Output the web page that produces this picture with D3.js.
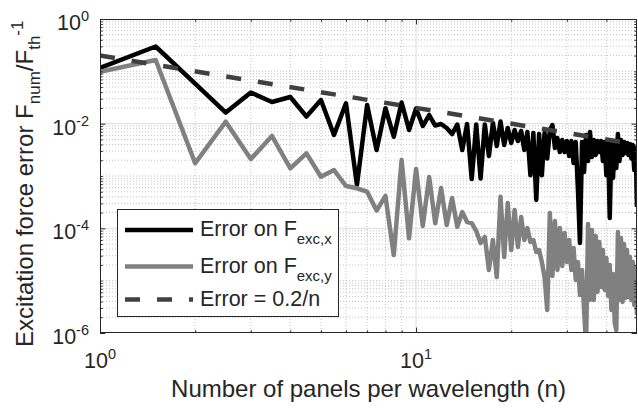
<!DOCTYPE html>
<html>
<head>
<meta charset="utf-8">
<script src="https://cdn.jsdelivr.net/npm/d3@7"></script>
<style>
  html, body { margin: 0; padding: 0; background: #fff; }
  svg { display: block; font-family: "Liberation Sans", Arial, Helvetica, sans-serif; }
</style>
</head>
<body>
<svg id="chart" width="638" height="410"></svg>
<script>
// Number of panels per wavelength (n), sampled every 0.5
const panelsPerWavelength = [
  1, 1.5, 2, 2.5, 3, 3.5, 4, 4.5, 5, 5.5,
  6, 6.5, 7, 7.5, 8, 8.5, 9, 9.5, 10, 10.5,
  11, 11.5, 12, 12.5, 13, 13.5, 14, 14.5, 15, 15.5,
  16, 16.5, 17, 17.5, 18, 18.5, 19, 19.5, 20, 20.5,
  21, 21.5, 22, 22.5, 23, 23.5, 24, 24.5, 25, 25.5,
  26, 26.5, 27, 27.5, 28, 28.5, 29, 29.5, 30, 30.5,
  31, 31.5, 32, 32.5, 33, 33.5, 34, 34.5, 35, 35.5,
  36, 36.5, 37, 37.5, 38, 38.5, 39, 39.5, 40, 40.5,
  41, 41.5, 42, 42.5, 43, 43.5, 44, 44.5, 45, 45.5,
  46, 46.5, 47, 47.5, 48, 48.5, 49, 49.5, 50
];

// Relative error on the x component of the excitation force
const errorExcX = [
  0.116, 0.298, 0.0585, 0.0163, 0.0394, 0.0259, 0.0323, 0.0137, 0.0283, 0.00607,
  0.0245, 0.000673, 0.0227, 0.00314, 0.0197, 0.00563, 0.0254, 0.00756, 0.0195, 0.00902,
  0.0146, 0.00922, 0.00985, 0.00826, 0.00634, 0.00964, 0.00314, 0.00985, 0.000876, 0.00964,
  0.000895, 0.00964, 0.00241, 0.0103, 0.00374, 0.0110, 0.00391, 0.00826, 0.00427, 0.00756,
  0.00466, 0.00724, 0.00314, 0.00693, 0.00103, 0.00663, 0.000348, 0.00634, 0.00103, 0.00663,
  0.00215, 0.00756, 0.00943, 0.00343, 0.00532, 0.00287, 0.00487, 0.00287, 0.00466, 0.00241,
  0.00466, 0.00177, 0.00446, 0.00059, 5.24e-5, 0.00446, 0.00119, 0.00607, 0.00193, 0.00693,
  0.00231, 0.00487, 0.00252, 0.00466, 0.00287, 0.00466, 0.00193, 0.00446, 0.00103, 0.00427,
  0.000158, 0.00427, 0.000915, 0.00466, 0.00142, 0.00634, 0.00193, 0.00487, 0.00252, 0.00446,
  0.00275, 0.00427, 0.00252, 0.00409, 0.00215, 0.00391, 0.0013, 0.00343, 0.000256
];

// Relative error on the y component of the excitation force
const errorExcY = [
  0.0984, 0.165, 0.00175, 0.0109, 0.00211, 0.00581, 0.0014, 0.00271, 0.00097, 0.0013,
  0.000644, 0.000582, 0.000501, 0.000219, 0.000415, 3.09e-5, 0.00202, 6.45e-5, 0.00136, 0.000111,
  0.000957, 0.000125, 0.00059, 0.000116, 0.00038, 0.000107, 0.000205, 0.000132, 0.000126, 8.89e-5,
  5.24e-5, 6.83e-5, 1.6e-5, 5.98e-5, 1.17e-5, 0.000402, 2.83e-5, 0.000305, 3.85e-5, 0.000224,
  4.4e-5, 0.000164, 5.98e-5, 0.000101, 5.48e-5, 5.98e-5, 3.53e-5, 3.85e-5, 2.27e-5, 1.17e-5,
  2.75e-6, 0.000196, 1.23e-5, 0.000138, 1.6e-5, 0.000101, 1.9e-5, 8.14e-5, 2.27e-5, 5.98e-5,
  1.6e-5, 4.21e-5, 1.03e-5, 2.27e-5, 5.32e-6, 1.6e-5, 2.75e-6, 5.9e-7, 0.000121, 4.27e-6,
  9.29e-5, 4.27e-6, 7.13e-5, 6.07e-6, 5.48e-5, 7.57e-6, 3.85e-5, 6.63e-6, 2.71e-5, 5.09e-6,
  1.99e-5, 2.75e-6, 1.34e-5, 1.62e-6, 1.14e-6, 8.51e-5, 4.27e-6, 6.53e-5, 3.91e-6, 5.01e-5,
  4.66e-6, 3.85e-5, 4.88e-6, 2.83e-5, 4.27e-6, 2.27e-5, 3.43e-6, 1.75e-5, 2.21e-6
];

// Reference trend Error = 0.2/n (a straight line on log-log axes)
const refN = [1, 50];
const refError = [0.2, 0.004];

// Axis ticks and labels
const xMajorTicks = [1, 10];
const xTickExponents = ["0", "1"];
const xMinorTicks = [2, 3, 4, 5, 6, 7, 8, 9, 20, 30, 40];
const yMajorTicks = [1, 1e-2, 1e-4, 1e-6];
const yTickExponents = ["0", "-2", "-4", "-6"];
const yMinorTicks = [];
for (let k = -6; k < 0; k++) {
  for (let m = 1; m <= 9; m++) {
    const v = +(m * Math.pow(10, k)).toPrecision(3);
    if (!(m === 1 && k % 2 === 0)) yMinorTicks.push(v);
  }
}

const legendLabels = [
  { main: "Error on F", sub: "exc,x" },
  { main: "Error on F", sub: "exc,y" },
  { main: "Error = 0.2/n", sub: "" }
];

const W = 638, H = 410;
const plot = { left: 100, right: 637, top: 19, bottom: 333 };
const axisColor = "#262626";
const lineWidth = 4.5;

const svg = d3.select("#chart");
svg.append("rect").attr("width", W).attr("height", H).attr("fill", "#fff");

const x = d3.scaleLog().domain([1, 50]).range([plot.left, plot.right]);
const y = d3.scaleLog().domain([1e-6, 1]).range([plot.bottom, plot.top]);

// Grid: dotted minor lines, solid major lines
const grid = svg.append("g");
grid.selectAll(".vminor").data(xMinorTicks).join("line")
  .attr("x1", d => x(d)).attr("x2", d => x(d))
  .attr("y1", plot.top).attr("y2", plot.bottom)
  .attr("stroke", "#c4c4c4").attr("stroke-width", 1).attr("stroke-dasharray", "1,2");
grid.selectAll(".hminor").data(yMinorTicks).join("line")
  .attr("x1", plot.left).attr("x2", plot.right)
  .attr("y1", d => y(d)).attr("y2", d => y(d))
  .attr("stroke", "#c4c4c4").attr("stroke-width", 1).attr("stroke-dasharray", "1,2");
grid.selectAll(".vmajor").data(xMajorTicks.slice(1)).join("line")
  .attr("x1", d => x(d)).attr("x2", d => x(d))
  .attr("y1", plot.top).attr("y2", plot.bottom)
  .attr("stroke", "#dcdcdc").attr("stroke-width", 1);
grid.selectAll(".hmajor").data(yMajorTicks.slice(1, -1)).join("line")
  .attr("x1", plot.left).attr("x2", plot.right)
  .attr("y1", d => y(d)).attr("y2", d => y(d))
  .attr("stroke", "#dcdcdc").attr("stroke-width", 1);

// Data lines, clipped to the axes box
svg.append("clipPath").attr("id", "plotClip")
  .append("rect")
  .attr("x", plot.left).attr("y", plot.top)
  .attr("width", plot.right - plot.left).attr("height", plot.bottom - plot.top);

const lines = svg.append("g").attr("clip-path", "url(#plotClip)");
const lineGen = d3.line().x(d => x(d[0])).y(d => y(d[1]));

lines.append("path")
  .datum(panelsPerWavelength.map((n, i) => [n, errorExcX[i]]))
  .attr("d", lineGen)
  .attr("fill", "none").attr("stroke", "#000").attr("stroke-width", lineWidth)
  .attr("stroke-linejoin", "round");

lines.append("path")
  .datum(panelsPerWavelength.map((n, i) => [n, errorExcY[i]]))
  .attr("d", lineGen)
  .attr("fill", "none").attr("stroke", "#808080").attr("stroke-width", lineWidth)
  .attr("stroke-linejoin", "round");

lines.append("path")
  .datum(refN.map((n, i) => [n, refError[i]]))
  .attr("d", lineGen)
  .attr("fill", "none").attr("stroke", "#404040").attr("stroke-width", lineWidth)
  .attr("stroke-dasharray", "15,17");

// Ticks on all four sides, pointing inward
function styleAxis(g) {
  g.select(".domain").remove();
  g.selectAll(".tick line").attr("stroke", axisColor);
}
const major = 5.4, minor = 2.7;
svg.append("g").attr("transform", `translate(0,${plot.bottom})`)
  .call(d3.axisBottom(x).tickValues(xMajorTicks).tickSize(-major).tickFormat("")).call(styleAxis);
svg.append("g").attr("transform", `translate(0,${plot.bottom})`)
  .call(d3.axisBottom(x).tickValues(xMinorTicks).tickSize(-minor).tickFormat("")).call(styleAxis);
svg.append("g").attr("transform", `translate(0,${plot.top})`)
  .call(d3.axisTop(x).tickValues(xMajorTicks).tickSize(-major).tickFormat("")).call(styleAxis);
svg.append("g").attr("transform", `translate(0,${plot.top})`)
  .call(d3.axisTop(x).tickValues(xMinorTicks).tickSize(-minor).tickFormat("")).call(styleAxis);
svg.append("g").attr("transform", `translate(${plot.left},0)`)
  .call(d3.axisLeft(y).tickValues(yMajorTicks).tickSize(-major).tickFormat("")).call(styleAxis);
svg.append("g").attr("transform", `translate(${plot.left},0)`)
  .call(d3.axisLeft(y).tickValues(yMinorTicks).tickSize(-minor).tickFormat("")).call(styleAxis);
svg.append("g").attr("transform", `translate(${plot.right},0)`)
  .call(d3.axisRight(y).tickValues(yMajorTicks).tickSize(-major).tickFormat("")).call(styleAxis);
svg.append("g").attr("transform", `translate(${plot.right},0)`)
  .call(d3.axisRight(y).tickValues(yMinorTicks).tickSize(-minor).tickFormat("")).call(styleAxis);

// Axes box
svg.append("rect")
  .attr("x", plot.left + 0.5).attr("y", plot.top + 0.5)
  .attr("width", plot.right - plot.left - 1).attr("height", plot.bottom - plot.top - 1)
  .attr("fill", "none").attr("stroke", axisColor).attr("stroke-width", 1);

// Tick labels as powers of ten
const tickFont = 21.5, supFont = 14.5;
xMajorTicks.forEach((v, i) => {
  const t = svg.append("text")
    .attr("x", x(v)).attr("y", 368)
    .attr("text-anchor", "middle").attr("fill", axisColor)
    .attr("font-size", tickFont);
  t.append("tspan").text("10");
  t.append("tspan").attr("font-size", supFont).attr("dy", -9).text(xTickExponents[i]);
});
yMajorTicks.forEach((v, i) => {
  const t = svg.append("text")
    .attr("x", 89).attr("y", y(v) + 11)
    .attr("text-anchor", "end").attr("fill", axisColor)
    .attr("font-size", tickFont);
  t.append("tspan").text("10");
  t.append("tspan").attr("font-size", supFont).attr("dy", -9).text(yTickExponents[i]);
});

// Axis titles
svg.append("text")
  .attr("x", (plot.left + plot.right) / 2).attr("y", 397)
  .attr("text-anchor", "middle").attr("fill", axisColor)
  .attr("font-size", 24)
  .text("Number of panels per wavelength (n)");

const yTitle = svg.append("text")
  .attr("transform", "translate(33,347) rotate(-90)")
  .attr("text-anchor", "start").attr("fill", axisColor)
  .attr("font-size", 24);
yTitle.append("tspan").text("Excitation force error F");
yTitle.append("tspan").attr("font-size", 17).attr("dy", 7).text("num");
yTitle.append("tspan").attr("dy", -7).text("/F");
yTitle.append("tspan").attr("font-size", 17).attr("dy", 7).text("th");
yTitle.append("tspan").attr("font-size", 17).attr("dy", -17).text("-1");

// Legend
const legend = svg.append("g");
legend.append("rect")
  .attr("x", 117.5).attr("y", 209.5).attr("width", 221).attr("height", 107)
  .attr("fill", "#fff").attr("stroke", axisColor).attr("stroke-width", 1);
const legendRows = [230, 266.5, 299.5];
const legendStyles = [
  { stroke: "#000", dash: null },
  { stroke: "#808080", dash: null },
  { stroke: "#404040", dash: "15,17" }
];
legendLabels.forEach((lab, i) => {
  legend.append("line")
    .attr("x1", 125).attr("x2", 193)
    .attr("y1", legendRows[i]).attr("y2", legendRows[i])
    .attr("stroke", legendStyles[i].stroke).attr("stroke-width", lineWidth)
    .attr("stroke-dasharray", legendStyles[i].dash);
  const t = legend.append("text")
    .attr("x", 200).attr("y", legendRows[i] + 6)
    .attr("fill", axisColor).attr("font-size", 21.5);
  t.append("tspan").text(lab.main);
  if (lab.sub) t.append("tspan").attr("font-size", 15).attr("dy", 8).text(lab.sub);
});
</script>
</body>
</html>
